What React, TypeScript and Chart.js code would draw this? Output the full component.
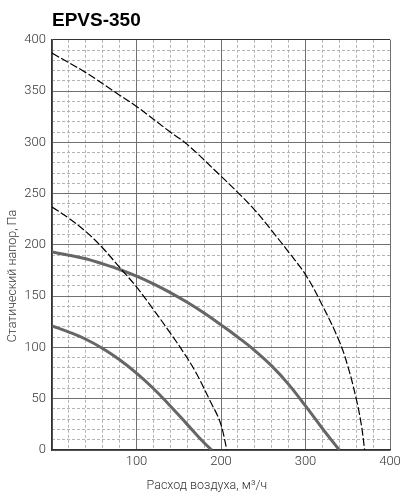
import React, { useEffect, useRef } from "react";
import { Chart, registerables } from "chart.js";

Chart.register(...registerables);

const TITLE = "EPVS-350";
const X_TITLE = "Расход воздуха, м³/ч";
const Y_TITLE = "Статический напор, Па";

const outerDashX = [0, 40, 80, 100, 140, 160, 200, 220, 240, 260, 280, 300, 320, 340, 350, 360, 366, 370];
const outerDashY = [387, 368, 346, 335, 310, 298, 267, 251, 234, 214, 193, 171, 141, 106, 82, 50, 25, 0];

const innerDashX = [0, 20, 40, 60, 80, 100, 120, 140, 155, 170, 187, 199, 207];
const innerDashY = [237, 226, 213, 197, 178, 159, 137, 114, 96, 76, 48, 27, 0];

const outerSolidX = [0, 20, 40, 60, 80, 100, 120, 140, 160, 180, 200, 220, 240, 260, 280, 300, 320, 340];
const outerSolidY = [193, 190, 186.5, 181.5, 176, 169.5, 162, 153.5, 144, 133.5, 122, 110, 97, 82, 64, 43, 21, 0];

const innerSolidX = [0, 20, 40, 60, 80, 100, 120, 140, 160, 180, 189];
const innerSolidY = [121, 115, 108, 99, 88, 75, 60, 43, 25, 7, 0];

const X_MIN = 0, X_MAX = 400, X_STEP = 100, X_MINOR = 20;
const Y_MIN = 0, Y_MAX = 400, Y_STEP = 50, Y_MINOR = 10;

const pts = (xs: number[], ys: number[]) => xs.map((x, i) => ({ x, y: ys[i] }));

const FONT = "Roboto, 'Liberation Sans', sans-serif";

export default function App() {
  const ref = useRef<HTMLCanvasElement | null>(null);
  useEffect(() => {
    if (!ref.current) return;
    const axisTitles = {
      id: "axisTitles",
      afterDraw(chart: any) {
        const { ctx, chartArea } = chart;
        ctx.save();
        ctx.fillStyle = "#333";
        ctx.font = `300 12.5px ${FONT}`;
        ctx.textAlign = "center";
        ctx.textBaseline = "middle";
        ctx.fillText(X_TITLE, chartArea.left + chartArea.width * 0.458, chartArea.bottom + 36);
        ctx.translate(13, chartArea.top + chartArea.height * 0.576);
        ctx.rotate(-Math.PI / 2);
        ctx.fillText(Y_TITLE, 0, 0);
        ctx.restore();
      },
    };
    const solid = { borderColor: "#666", borderWidth: 3, borderDash: [] as number[] };
    const dashed = { borderColor: "#000", borderWidth: 1.2, borderDash: [8, 2.5] };
    const common = { showLine: true, pointRadius: 0, tension: 0.4, xAxisID: "x", yAxisID: "y", fill: false };
    const chart = new Chart(ref.current, {
      type: "scatter",
      data: {
        datasets: [
          { ...common, ...dashed, data: pts(outerDashX, outerDashY) },
          { ...common, ...dashed, data: pts(innerDashX, innerDashY) },
          { ...common, ...solid, data: pts(outerSolidX, outerSolidY) },
          { ...common, ...solid, data: pts(innerSolidX, innerSolidY) },
        ],
      },
      options: {
        animation: false,
        responsive: false,
        layout: { padding: { left: 0, right: 22, top: 0, bottom: 0 } },
        plugins: {
          legend: { display: false },
          tooltip: { enabled: false },
          title: {
            display: true,
            text: TITLE,
            align: "start",
            fullSize: false,
            color: "#000",
            font: { family: "'Liberation Sans', Arial, sans-serif", size: 19, weight: "bold", lineHeight: 1.2 },
            padding: { top: 9, bottom: 8 },
          },
        },
        scales: {
          xm: {
            type: "linear",
            position: "bottom",
            min: X_MIN,
            max: X_MAX,
            ticks: { display: false, stepSize: X_MINOR },
            grid: {
              drawTicks: false,
              color: (c: any) => (c.tick && c.tick.value % X_STEP === 0 ? "rgba(0,0,0,0)" : "#b3b3b3"),
              lineWidth: 1,
            },
            border: { display: false, dash: [3, 2] },
            afterFit: (s: any) => { s.height = 0; },
          },
          ym: {
            type: "linear",
            position: "left",
            min: Y_MIN,
            max: Y_MAX,
            ticks: { display: false, stepSize: Y_MINOR },
            grid: {
              drawTicks: false,
              color: (c: any) => (c.tick && c.tick.value % Y_STEP === 0 ? "rgba(0,0,0,0)" : "#b3b3b3"),
              lineWidth: 1,
            },
            border: { display: false, dash: [3, 2] },
            afterFit: (s: any) => { s.width = 0; },
          },
          x: {
            type: "linear",
            position: "bottom",
            min: X_MIN,
            max: X_MAX,
            ticks: {
              stepSize: X_STEP,
              color: "#333",
              padding: 4,
              font: { family: FONT, size: 13, weight: "300" },
              callback: (v: any) => (v === 0 ? "" : String(v)),
            },
            grid: { drawTicks: false, color: "#707070", lineWidth: 1 },
            border: { display: true, color: "#333", width: 1.5 },
            afterFit: (s: any) => { s.height = 50; },
          },
          y: {
            type: "linear",
            position: "left",
            min: Y_MIN,
            max: Y_MAX,
            ticks: {
              stepSize: Y_STEP,
              color: "#333",
              padding: 6,
              font: { family: FONT, size: 13, weight: "300" },
            },
            grid: { drawTicks: false, color: (c: any) => (c.tick && c.tick.value === Y_MAX ? "#333" : "#707070"), lineWidth: 1 },
            border: { display: true, color: "#333", width: 1.5 },
            afterFit: (s: any) => { s.width = 52; },
          },
        },
      },
      plugins: [axisTitles],
    } as any);
    return () => chart.destroy();
  }, []);
  return (
    <div style={{ position: "fixed", left: 0, top: 0, width: 412, height: 500, background: "#fff" }}>
      <canvas ref={ref} width={412} height={500} style={{ width: 412, height: 500, display: "block" }} />
    </div>
  );
}
